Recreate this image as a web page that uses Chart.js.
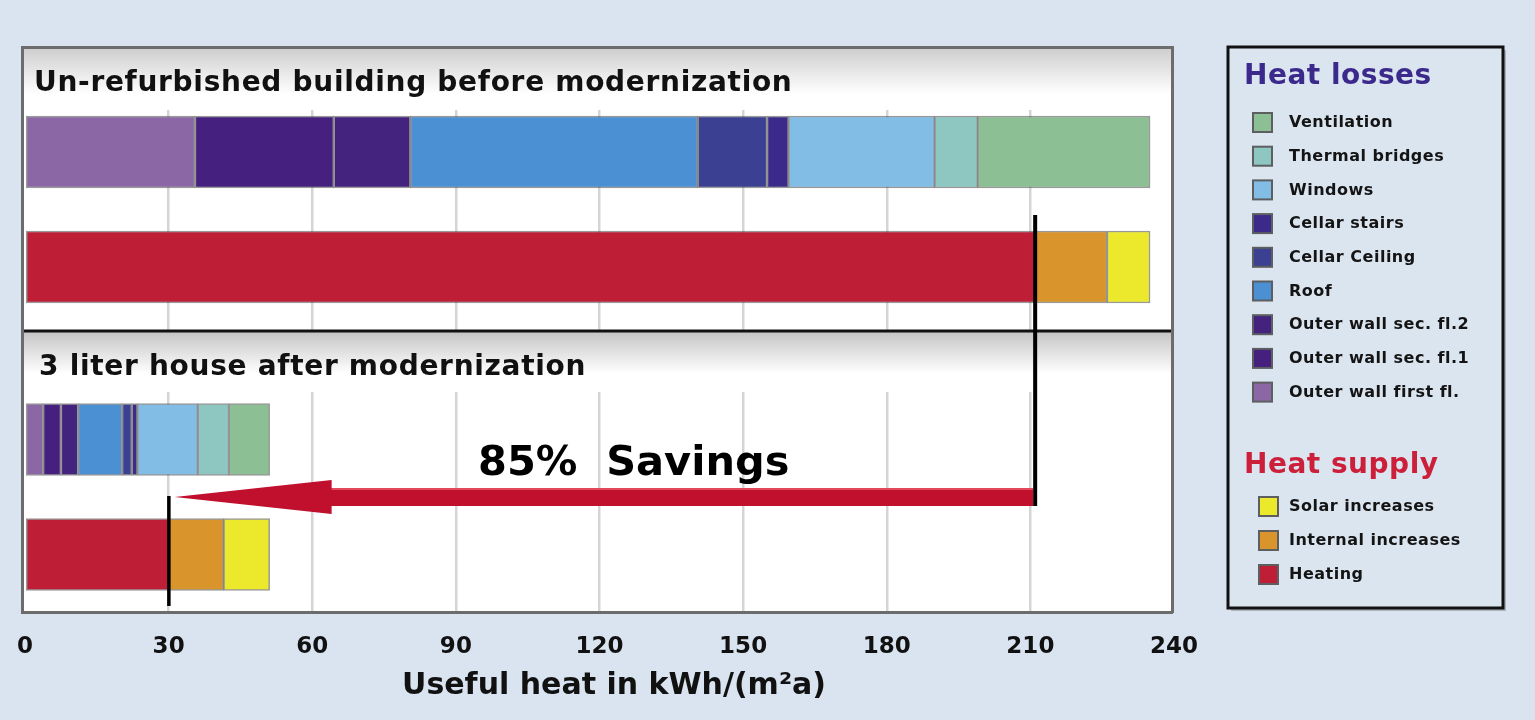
<!DOCTYPE html>
<html>
<head>
<meta charset="utf-8">
<title>Useful heat before and after modernization</title>
<script src="https://cdn.jsdelivr.net/npm/chart.js@4"></script>
<style>
    html, body { margin: 0; padding: 0; background: #d9e4f0; }
    #wrap { width: 1535px; height: 720px; position: relative; }
</style>
</head>
<body>
<div id="wrap"><canvas id="heatChart" width="1535" height="720"></canvas></div>
<script>
'use strict';

//===== DATA ======

const ROW_LABELS = ['Before: heat losses', 'Before: heat supply', 'After: heat losses', 'After: heat supply'];
const SECTION_TITLES = ['Un-refurbished building before modernization', '3 liter house after modernization'];

const LOSS_LABELS = ['Outer wall first fl.', 'Outer wall sec. fl.1', 'Outer wall sec. fl.2', 'Roof',
    'Cellar Ceiling', 'Cellar stairs', 'Windows', 'Thermal bridges', 'Ventilation'];
const LOSSES_BEFORE = [35.5, 29, 16, 60, 14.5, 4.5, 30.5, 9, 36];
const LOSSES_AFTER = [3.8, 3.7, 3.6, 9.2, 2, 1.2, 12.6, 6.5, 8.5];

const SUPPLY_LABELS = ['Heating', 'Internal increases', 'Solar increases'];
const SUPPLY_BEFORE = [211, 15, 9];
const SUPPLY_AFTER = [30, 11.5, 9.6];

const X_TICKS = [0, 30, 60, 90, 120, 150, 180, 210, 240];
const X_TITLE = 'Useful heat in kWh/(m²a)';
const SAVINGS_TEXT = '85%  Savings';

//===== STYLE ======

const LOSS_COLORS = ['#8c67a6', '#46207e', '#44237f', '#4a90d2', '#3b4092', '#3c2a8a', '#82bde6', '#8ec6c2', '#8cbf94'];
const SUPPLY_COLORS = ['#be1f37', '#d9952c', '#ece82c'];

// rows sit on these slots of the category axis (the rest are spacers)
const SLOT_COUNT = 10;
const ROW_SLOTS = [1, 3, 6, 8];
const FONT = '"DejaVu Sans", Verdana, sans-serif';

function slotLabels() {
    let labels = new Array(SLOT_COUNT).fill('');
    ROW_SLOTS.forEach((slot, i) => { labels[slot] = ROW_LABELS[i]; });
    return labels;
}

function slotData(rowA, valueA, rowB, valueB) {
    let data = new Array(SLOT_COUNT).fill(null);
    data[ROW_SLOTS[rowA]] = valueA;
    data[ROW_SLOTS[rowB]] = valueB;
    return data;
}

function buildDatasets() {
    const common = {
        borderColor: 'rgba(70,70,70,0.55)',
        borderWidth: 1.5,
        borderSkipped: false,
        barThickness: 72
    };
    const losses = LOSS_LABELS.map((label, i) => Object.assign({
        label: label,
        group: 'losses',
        data: slotData(0, LOSSES_BEFORE[i], 2, LOSSES_AFTER[i]),
        backgroundColor: LOSS_COLORS[i]
    }, common));
    const supply = SUPPLY_LABELS.map((label, i) => Object.assign({
        label: label,
        group: 'supply',
        data: slotData(1, SUPPLY_BEFORE[i], 3, SUPPLY_AFTER[i]),
        backgroundColor: SUPPLY_COLORS[i]
    }, common));
    return losses.concat(supply);
}

//===== DECORATION PLUGIN ======

const PLOT_TOP = 47;
const PLOT_LEFT = 22;
const PLOT_RIGHT = 1172;
const SEPARATOR_Y = 331;

const decorations = {
    id: 'decorations',
    beforeDraw(chart) {
        const ctx = chart.ctx;
        const area = chart.chartArea;
        ctx.save();
        ctx.fillStyle = '#ffffff';
        ctx.fillRect(PLOT_LEFT, PLOT_TOP, PLOT_RIGHT - PLOT_LEFT, area.bottom - PLOT_TOP);
        ctx.restore();
    },
    beforeDatasetsDraw(chart) {
        const ctx = chart.ctx;
        ctx.save();
        // section header bands
        let g = ctx.createLinearGradient(0, PLOT_TOP, 0, 110);
        g.addColorStop(0, '#cdcdcd');
        g.addColorStop(0.75, '#ffffff');
        g.addColorStop(1, '#ffffff');
        ctx.fillStyle = g;
        ctx.fillRect(PLOT_LEFT, PLOT_TOP, PLOT_RIGHT - PLOT_LEFT, 110 - PLOT_TOP);

        g = ctx.createLinearGradient(0, SEPARATOR_Y, 0, 392);
        g.addColorStop(0, '#c4c4c4');
        g.addColorStop(0.7, '#ffffff');
        g.addColorStop(1, '#ffffff');
        ctx.fillStyle = g;
        ctx.fillRect(PLOT_LEFT, SEPARATOR_Y, PLOT_RIGHT - PLOT_LEFT, 392 - SEPARATOR_Y);

        ctx.fillStyle = '#111111';
        ctx.font = 'bold 28px ' + FONT;
        ctx.letterSpacing = '0.7px';
        ctx.textBaseline = 'middle';
        ctx.textAlign = 'left';
        ctx.fillText(SECTION_TITLES[0], 34, 84);
        ctx.fillText(SECTION_TITLES[1], 39, 368);
        ctx.letterSpacing = '0px';

        // separator between the two buildings
        ctx.fillStyle = '#111111';
        ctx.fillRect(PLOT_LEFT, SEPARATOR_Y - 1.5, PLOT_RIGHT - PLOT_LEFT, 3);
        ctx.restore();
    },
    afterDatasetsDraw(chart) {
        const ctx = chart.ctx;
        const area = chart.chartArea;
        const x = chart.scales.x;
        const y = chart.scales.y;
        const xBefore = x.getPixelForValue(SUPPLY_BEFORE[0]);
        const xAfter = x.getPixelForValue(SUPPLY_AFTER[0]);
        const arrowY = y.getPixelForValue(ROW_SLOTS[3] - 1);
        ctx.save();

        // red savings arrow
        const tipX = xAfter + 6;
        const headX = xAfter + 163;
        ctx.fillStyle = '#c0102e';
        ctx.beginPath();
        ctx.moveTo(xBefore - 2, arrowY - 9);
        ctx.lineTo(headX, arrowY - 9);
        ctx.lineTo(headX, arrowY - 17);
        ctx.lineTo(tipX, arrowY);
        ctx.lineTo(headX, arrowY + 17);
        ctx.lineTo(headX, arrowY + 9);
        ctx.lineTo(xBefore - 2, arrowY + 9);
        ctx.closePath();
        ctx.fill();
        ctx.fillStyle = 'rgba(255,120,130,0.55)';
        ctx.fillRect(headX, arrowY - 9, xBefore - 2 - headX, 2);

        // vertical markers at the heating demand
        ctx.fillStyle = '#000000';
        const supplyTop = y.getPixelForValue(ROW_SLOTS[1]) - 52;
        ctx.fillRect(xBefore - 2, supplyTop, 4, arrowY + 9 - supplyTop);
        ctx.fillRect(xAfter - 1.5, arrowY - 1, 3.5, 110);

        ctx.fillStyle = '#000000';
        ctx.font = 'bold 41.5px ' + FONT;
        ctx.textBaseline = 'middle';
        ctx.textAlign = 'left';
        ctx.fillText(SAVINGS_TEXT, 478, 464);

        // plot frame
        ctx.fillStyle = '#6c6c6c';
        ctx.fillRect(PLOT_LEFT - 1, PLOT_TOP - 1, PLOT_RIGHT - PLOT_LEFT + 2, 3);
        ctx.fillRect(PLOT_LEFT - 1, PLOT_TOP - 1, 3, area.bottom - PLOT_TOP + 2);
        ctx.fillRect(PLOT_RIGHT - 1, PLOT_TOP - 1, 3, area.bottom - PLOT_TOP + 2);
        ctx.fillRect(PLOT_LEFT - 1, area.bottom - 1, PLOT_RIGHT - PLOT_LEFT + 2, 3);

        // axis title
        ctx.fillStyle = '#111111';
        ctx.font = 'bold 30px ' + FONT;
        ctx.textAlign = 'center';
        ctx.fillText(X_TITLE, 614, 686);
        ctx.restore();
        drawLegend(chart);
    }
};

function drawLegend(chart) {
    const ctx = chart.ctx;
    const left = 1228, top = 47, width = 275, height = 561;
    ctx.save();
    ctx.fillStyle = 'rgba(90,90,90,0.35)';
    ctx.fillRect(left + 3, top + 3, width, height);
    ctx.fillStyle = '#dbe5f0';
    ctx.fillRect(left, top, width, height);
    ctx.strokeStyle = '#111111';
    ctx.lineWidth = 3;
    ctx.strokeRect(left, top, width, height);

    ctx.textBaseline = 'middle';
    ctx.textAlign = 'left';
    ctx.font = 'bold 28px ' + FONT;
    ctx.letterSpacing = '0.5px';
    ctx.fillStyle = '#3b2a8c';
    ctx.fillText('Heat losses', 1244, 77);
    ctx.fillStyle = '#cc1f3a';
    ctx.fillText('Heat supply', 1244, 466);

    ctx.font = 'bold 16px ' + FONT;
    const lossItems = chart.data.datasets.filter(d => d.group === 'losses').reverse();
    lossItems.forEach((ds, i) => {
        legendItem(ctx, 1252, 123 + i * 33.7, ds);
    });
    const supplyItems = chart.data.datasets.filter(d => d.group === 'supply').reverse();
    supplyItems.forEach((ds, i) => {
        legendItem(ctx, 1258, 507 + i * 34, ds);
    });
    ctx.restore();
}

function legendItem(ctx, x, cy, ds) {
    ctx.fillStyle = 'rgba(60,60,60,0.8)';
    ctx.fillRect(x, cy - 11, 21, 21);
    ctx.fillStyle = ds.backgroundColor;
    ctx.fillRect(x + 2, cy - 9, 17, 17);
    ctx.fillStyle = '#141414';
    ctx.fillText(ds.label, 1289, cy);
}

//===== CHART ======

function drawChart() {
    const canvas = document.getElementById('heatChart');
    new Chart(canvas, {
        type: 'bar',
        data: {
            labels: slotLabels(),
            datasets: buildDatasets()
        },
        options: {
            indexAxis: 'y',
            responsive: false,
            animation: false,
            layout: { padding: { left: 25, right: 361, top: 94.5, bottom: 38.4 } },
            plugins: {
                legend: { display: false },
                tooltip: { enabled: false }
            },
            scales: {
                x: {
                    stacked: true,
                    min: X_TICKS[0],
                    max: X_TICKS[X_TICKS.length - 1],
                    afterBuildTicks: scale => { scale.ticks = X_TICKS.map(v => ({ value: v })); },
                    // the end labels may hang over the edges, don't let them shrink the plot
                    afterFit: scale => { scale.paddingLeft = 0; scale.paddingRight = 0; },
                    border: { display: false },
                    grid: {
                        drawTicks: false,
                        lineWidth: 2.5,
                        color: c => (c.tick && (c.tick.value === 0 || c.tick.value === 240)) ? 'rgba(0,0,0,0)' : '#d5d5d5'
                    },
                    ticks: {
                        padding: 21,
                        color: '#111111',
                        font: { family: FONT, size: 23, weight: 'bold' }
                    }
                },
                y: {
                    stacked: true,
                    display: false,
                    offset: false,
                    grid: { display: false }
                }
            }
        },
        plugins: [decorations]
    });
}

drawChart();
</script>
</body>
</html>
